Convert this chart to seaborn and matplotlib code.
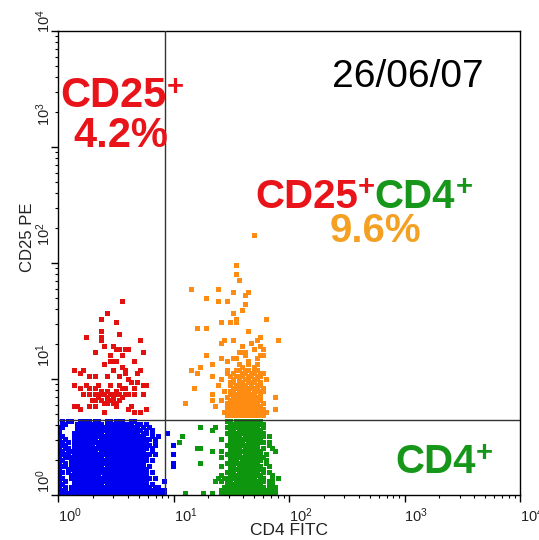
import numpy as np
import pandas as pd
import matplotlib
matplotlib.use("Agg")
import matplotlib.pyplot as plt
import matplotlib.transforms as mtransforms
from matplotlib.ticker import LogLocator, NullFormatter, FixedLocator
import seaborn as sns

# ---------------- data: events ----------------
# Events were read on a 3-pixel grid; column/row index -> log channel,
# 256 channels per decade (4-decade log scale, 1024 channels).
CH_PER_COL = 6.65
CH_PER_ROW = 6.62
CH_PER_DECADE = 256

# CD25- CD4- (blue), rows 24 (top) .. 0 (bottom), columns from 0
BLUE_ROWS = [
    ".#.##..####.##..##.###..##..........",
    ".##...#########.#########.##.#......",
    "##....#####################.#.#.....",
    "#.....######################.#.#....",
    "#....##########.###########.##.#....",
    "##...########################..#.#..",
    "#.#..########.#################.#...",
    "##.#.#########################..#...",
    "###..#######.##################.#...",
    "#.##.#########################.#....",
    "##.##########.###############..#....",
    "####.##########################.#...",
    "#.#############.##############......",
    "##..##########################.#....",
    "#.#.#########################.......",
    "###.###########.#############.#.....",
    "#..###########################......",
    "##.#.#########################.#....",
    "#...##########.###############......",
    "##..###########################.#...",
    "#.#..#########################.....#",
    "##...##########.##############.#....",
    "#.#.###########################.##..",
    "###.################################",
    "####################################",
]
BLUE_SPARSE = {20: [36], 16: [38], 13: [38], 10: [38], 9: [38]}

# CD4+ (green), rows 24 .. 0, columns from 54
GREEN_ROWS = [
    "..##.#########......",
    "...############.....",
    "..###########.#.....",
    "...##.########......",
    "..#############.....",
    "...####.#######.#...",
    "#..###########......",
    "...#####.######.#...",
    "..###########...#...",
    "...####.#####.#..#..",
    "#..###########....#.",
    "..#####.######.#....",
    "#..############.....",
    "...###.#######.#....",
    "..###########..#....",
    "#..##.########..#...",
    "...############.....",
    "..###.#######.#.#...",
    "#..###########...#..",
    ".###########.##..#.#",
    "#.##.##########.##..",
    "..############..##..",
    ".##############.###.",
    "###################.",
    "###################.",
]
GREEN_SPARSE = {22: [47, 52], 21: [51], 19: [41], 17: [40], 15: [46, 47],
                14: [51], 10: [47], 5: [53], 4: [52], 0: [42, 48, 51]}

# CD25+ (red), row: columns
RED = {
    64: [21], 60: [16], 58: [14], 57: [19], 54: [14], 53: [20],
    52: [9, 14], 51: [14, 27], 49: [15, 18], 48: [19, 20, 22, 23],
    47: [12, 28], 46: [17, 21], 44: [17, 18, 19, 25], 43: [15], 42: [21],
    41: [5, 8, 18, 22, 27], 40: [7, 22, 26], 39: [10, 12, 16, 20],
    38: [23], 37: [24, 26], 36: [5, 9, 13, 17, 20, 28, 29],
    35: [7, 10, 12, 21, 22, 25], 34: [14, 16, 19],
    33: [8, 10, 12, 13, 14, 15, 17, 18, 19, 20, 22, 23, 25, 28],
    32: [13, 16, 18, 21], 31: [11, 12, 14, 16, 17, 18, 20],
    30: [15, 16, 18, 19], 29: [5, 6, 10, 12, 19, 24], 28: [7, 23, 29],
    27: [15, 25, 27],
}

# CD25+ CD4+ (orange), row: columns
ORANGE = {
    86: [65], 76: [59], 73: [59], 71: [60], 68: [44, 53], 67: [58, 63],
    66: [62], 65: [49], 64: [53, 56], 63: [62], 61: [61], 60: [58],
    58: [59, 69], 57: [54, 57, 59], 55: [46, 49], 54: [63], 52: [67],
    51: [55, 58, 66, 73], 50: [54, 64], 49: [61, 67], 48: [65, 68],
    47: [60, 61, 62], 46: [49, 62, 67, 68], 45: [54, 58, 59, 66],
    44: [56, 63], 43: [51, 60, 63, 66], 42: [47, 61, 65],
    41: [44, 56, 59, 60, 62, 63, 65, 66],
    40: [46, 56, 58, 61, 62, 64, 65, 67, 68],
    39: [51, 57, 59, 60, 61, 63, 64, 66, 67],
    38: [54, 58, 60, 62, 63, 65, 66, 69],
    37: [57, 58, 60, 61, 63, 64, 65, 67],
    36: [53, 57, 59, 60, 61, 62, 64, 66, 67],
    35: [45, 58, 59, 60, 61, 62, 63, 64, 65, 66, 68],
    34: [55, 57, 58, 60, 61, 62, 63, 65, 66, 67, 68],
    33: [51, 57, 58, 59, 60, 61, 62, 63, 64, 65, 67],
    32: [56, 58, 59, 60, 61, 62, 63, 64, 65, 66, 67, 72],
    31: [51, 54, 57, 58, 59, 60, 61, 62, 63, 64, 65, 66, 67],
    30: [42, 56, 57, 58, 59, 60, 61, 62, 63, 64, 65, 66, 68],
    29: [52, 56, 57, 58, 59, 60, 61, 62, 63, 64, 65, 66, 67],
    28: [56, 57, 58, 59, 60, 61, 62, 63, 64, 65, 66, 67, 68, 72],
    27: [55, 56, 57, 58, 59, 60, 61, 62, 63, 64, 65, 66, 67, 68, 69],
    26: [56, 57, 58, 59, 60, 61, 62, 63, 64, 65, 66, 67, 68],
}

GATE_CD4 = 8.4       # vertical quadrant gate
GATE_CD25 = 4.4      # horizontal quadrant gate

POPULATIONS = ["CD4-CD25-", "CD4+", "CD25+", "CD25+CD4+"]
POINT_COLORS = ["#0000f0", "#0f960f", "#e31010", "#ff8c12"]

TICK_VALUES = [1, 10, 100, 1000, 10000]
TICK_LABELS = [r"$\mathregular{10^{0}}$", r"$\mathregular{10^{1}}$",
               r"$\mathregular{10^{2}}$", r"$\mathregular{10^{3}}$",
               r"$\mathregular{10^{4}}$"]
X_LABEL = "CD4 FITC"
Y_LABEL = "CD25 PE"
DATE = "26/06/07"
PCT_CD25 = "4.2%"
PCT_DOUBLE = "9.6%"


# ---------------- build the event table ----------------
def cells_from_rows(rows, top_row, col0):
    out = []
    for i, s in enumerate(rows):
        for j, ch in enumerate(s):
            if ch == "#":
                out.append((col0 + j, top_row - i))
    return out


def cells_from_dict(d):
    return [(c, r) for r, cols in d.items() for c in cols]


cells = {
    "CD4-CD25-": cells_from_rows(BLUE_ROWS, 24, 0) + cells_from_dict(BLUE_SPARSE),
    "CD4+": cells_from_rows(GREEN_ROWS, 24, 54) + cells_from_dict(GREEN_SPARSE),
    "CD25+": cells_from_dict(RED),
    "CD25+CD4+": cells_from_dict(ORANGE),
}
frames = []
for pop, cr in cells.items():
    arr = np.array(cr, dtype=float)
    frames.append(pd.DataFrame({
        "CD4": 10 ** ((arr[:, 0] + 0.5) * CH_PER_COL / CH_PER_DECADE),
        "CD25": 10 ** ((arr[:, 1] + 0.5) * CH_PER_ROW / CH_PER_DECADE),
        "pop": pop,
    }))
df = pd.concat(frames, ignore_index=True)

# ---------------- figure ----------------
sns.set_style("ticks")
plt.rcParams["font.family"] = ["Liberation Sans", "DejaVu Sans"]
plt.rcParams["mathtext.fontset"] = "custom"
plt.rcParams["mathtext.rm"] = "Liberation Sans"
plt.rcParams["mathtext.it"] = "Liberation Sans"

W, H = 539, 540
fig = plt.figure(figsize=(W / 100, H / 100), dpi=100)
ax = fig.add_axes([58 / W, 1 - 495 / H, 462 / W, 464 / H])

sns.scatterplot(data=df, x="CD4", y="CD25", hue="pop", hue_order=POPULATIONS,
                palette=dict(zip(POPULATIONS, POINT_COLORS)), marker="s", s=10,
                linewidth=0, edgecolor="none", legend=False, ax=ax)

ax.set_xscale("log")
ax.set_yscale("log")
ax.set_xlim(1, 1e4)
ax.set_ylim(1, 1e4)

ax.axvline(GATE_CD4, color="#333333", lw=1.0, zorder=3)
ax.axhline(GATE_CD25, color="#333333", lw=1.0, zorder=3)

for axis in (ax.xaxis, ax.yaxis):
    axis.set_major_locator(FixedLocator(TICK_VALUES))
    axis.set_minor_locator(LogLocator(base=10, subs=range(2, 10)))
    axis.set_minor_formatter(NullFormatter())
ax.set_xticklabels(TICK_LABELS)
ax.set_yticklabels(TICK_LABELS)

ax.tick_params(which="major", direction="out", length=5, width=1.0,
               labelsize=10.5, color="black", labelcolor="#222222")
ax.tick_params(which="minor", direction="out", length=2.5, width=0.8, color="black")
ax.tick_params(axis="x", which="major", pad=3)
ax.tick_params(axis="y", which="major", pad=-1.5)

for lab in ax.get_xticklabels():
    lab.set_horizontalalignment("left")
y_shift_px = [2, 12, 17, 21, -2]
for lab, dy in zip(ax.get_yticklabels(), y_shift_px):
    lab.set_rotation(90)
    lab.set_verticalalignment("bottom")
    lab.set_horizontalalignment("right")
    lab.set_transform(lab.get_transform() +
                      mtransforms.ScaledTranslation(0, dy / 100, fig.dpi_scale_trans))

for sp in ax.spines.values():
    sp.set_visible(True)
    sp.set_linewidth(1.0)
    sp.set_color("black")

ax.set_xlabel(X_LABEL, fontsize=12.5, color="#222222")
ax.set_ylabel(Y_LABEL, fontsize=12, color="#222222")
ax.xaxis.set_label_coords(0.5, (495 - 523) / 464)
ax.yaxis.set_label_coords((35 - 58) / 462, (495 - 237) / 464)

# ---------------- annotations ----------------
RED_TXT = "#e8141a"
GREEN_TXT = "#16971a"
ORANGE_TXT = "#f4a023"
renderer = fig.canvas.get_renderer()


def put(x, y, s, color, size, weight="bold"):
    return fig.text(x / W, 1 - y / H, s, color=color, fontsize=size,
                    fontweight=weight, ha="left", va="baseline")


def right_px(t):
    return t.get_window_extent(renderer).x1


t = put(60, 107, "CD25", RED_TXT, 30)
put(right_px(t) + 1, 95, "+", RED_TXT, 21)
put(73, 147, PCT_CD25, RED_TXT, 30)

put(332, 87, DATE, "black", 28, "normal")

t = put(255, 208, "CD25", RED_TXT, 29)
p = put(right_px(t), 195, "+", RED_TXT, 21)
t2 = put(right_px(p), 208, "CD4", GREEN_TXT, 29)
put(right_px(t2), 195, "+", GREEN_TXT, 21)
put(330, 242, PCT_DOUBLE, ORANGE_TXT, 29)

t = put(395, 473, "CD4", GREEN_TXT, 29)
put(right_px(t), 461, "+", GREEN_TXT, 21)

fig.savefig("out.png", dpi=100)
